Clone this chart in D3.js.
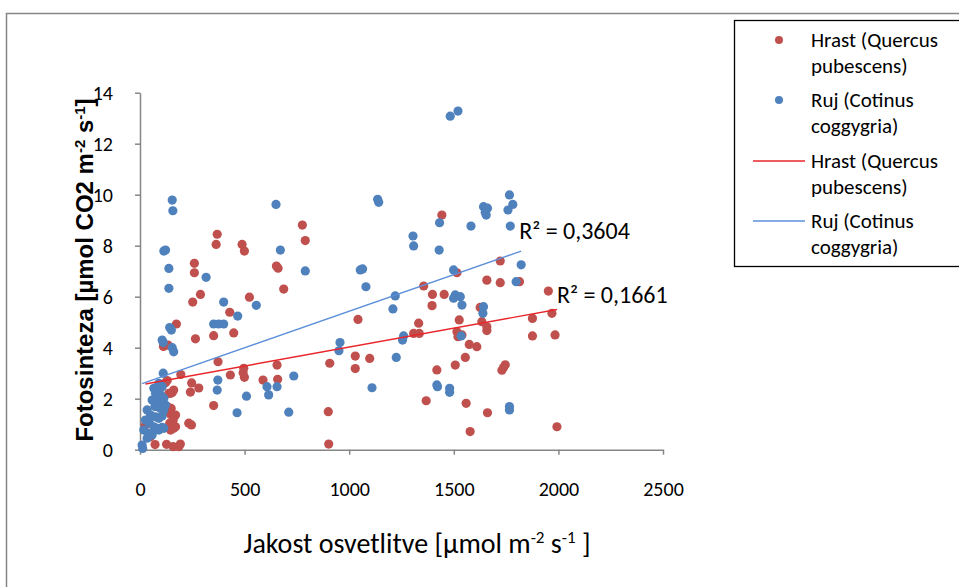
<!DOCTYPE html>
<html>
<head>
<meta charset="utf-8">
<script src="https://cdn.jsdelivr.net/npm/d3@7"></script>
<style>
body { margin: 0; background: #fff; }
text { fill: #000; }
</style>
</head>
<body>
<div id="holder"></div>
<script>
const w = 959;
const h = 587;
const font = "Carlito, Calibri, Lato, sans-serif";

// DATA
const hrastPoints = [
  [369,8.45],[364,8.05],[488,8.05],[499,7.79],[260,7.31],[260,6.94],[652,7.2],[660,7.12],[776,8.81],[790,8.2],
  [687,6.3],[289,6.09],[252,5.79],[523,5.98],[429,5.39],[174,4.93],[265,4.35],[352,4.47],[448,4.58],[112,4.05],
  [135,4.1],[373,3.45],[195,2.95],[247,2.62],[241,2.26],[281,2.42],[352,1.73],[432,2.93],[496,3.19],[499,2.84],
  [493,3.02],[588,2.73],[655,3.32],[658,2.76],[907,3.39],[900,1.49],[902,0.22],[233,1.04],[246,0.97],
  [146,1.39],[159,1.16],[142,1.04],[161,0.84],[149,1.62],[138,1.56],[170,1.36],[127,0.21],[159,0.12],[185,0.12],
  [193,0.22],[72,0.2],[34,1.1],[50,0.51],[42,0.58],[146,2.21],[154,2.24],[122,2.63],[130,2.71],[138,2.21],
  [161,2.34],[130,1.69],[154,1.04],[170,0.9],[146,0.77],[82,1.69],[26,0.97],[90,1.95],
  [1356,6.42],[1398,6.09],[1454,6.09],[1396,5.65],[1658,6.65],[1722,6.55],[1722,7.4],[1042,5.11],[1332,4.96],
  [1308,4.56],[1335,4.56],[1526,5.09],[1515,4.63],[1520,4.43],[1539,4.5],[1626,5.58],[1634,5.02],[1658,4.82],
  [1658,4.67],[1574,4.13],[1610,4.04],[1555,3.62],[1029,3.67],[1029,3.18],[1098,3.58],[1419,3.13],[1507,3.32],
  [1746,3.33],[1738,3.22],[1730,3.12],[1368,1.92],[1559,1.82],[1661,1.45],[1578,0.71],[1443,9.2],[1515,6.94],
  [1814,6.59],[1876,5.15],[1969,5.35],[1952,6.22],[1876,4.46],[1984,4.5],[1993,0.9]
];

const rujPoints = [
  [154,9.79],[157,9.37],[114,7.79],[122,7.83],[138,7.11],[138,6.33],[316,6.76],[650,9.62],[671,7.83],[790,7.01],
  [400,5.79],[556,5.66],[467,5.24],[352,4.93],[376,4.93],[400,4.93],[142,4.79],[150,4.69],[106,4.3],[111,4.2],
  [154,4.0],[161,3.84],[111,3.0],[372,2.73],[369,2.34],[464,1.45],[509,2.1],[607,2.47],[615,2.15],[655,2.47],
  [711,1.47],[735,2.89],[956,4.2],[951,3.88],
  [90,2.6],[66,2.41],[90,2.37],[106,2.47],[74,2.21],[98,2.15],[58,1.95],[82,1.88],[106,2.02],[71,1.69],
  [98,1.62],[114,1.56],[34,1.56],[50,1.36],[74,1.29],[90,1.23],[106,1.32],[26,1.16],[45,1.04],[66,0.9],
  [82,0.84],[106,0.88],[18,0.77],[39,0.64],[58,0.58],[34,0.45],[10,0.18],[13,0.05],[114,2.02],[122,1.75],
  [90,0.77],[114,0.84],
  [1483,13.08],[1520,13.28],[1136,9.82],[1141,9.7],[1766,9.99],[1782,9.62],[1759,9.4],[1642,9.53],[1661,9.47],
  [1655,9.2],[1650,9.3],[1432,8.9],[1582,8.77],[1770,8.77],[1305,8.38],[1308,7.99],[1430,7.83],[1822,7.25],
  [1499,7.05],[1798,6.59],[1220,6.03],[1209,5.52],[1507,6.07],[1531,6.0],[1539,5.67],[1499,5.94],[1642,5.61],
  [1639,5.35],[1053,7.05],[1064,7.09],[1080,6.39],[1260,4.46],[1255,4.3],[1225,3.62],[1109,2.43],[1419,2.54],
  [1422,2.47],[1480,2.41],[1480,2.25],[1535,4.46],[1766,1.69],[1766,1.56]
];

// linear trend: [slope, intercept]
const hrastTrend = [0.001484, 2.54];
const rujTrend = [0.00287, 2.56];
const r2Labels = ["R² = 0,1661", "R² = 0,3604"];

const xTicks = [0, 500, 1000, 1500, 2000, 2500];
const yTicks = [0, 2, 4, 6, 8, 10, 12, 14];
const legendNames = [["Hrast (Quercus", "pubescens)"], ["Ruj (Cotinus", "coggygria)"]];

const red = "#C0504D";
const blue = "#4F81BD";
const redLine = "#E8262B";
const blueLine = "#5B8FD8";
const axisColor = "#868686";

// CREATE SVG
const svg = d3.select("#holder")
    .append("svg")
    .attr("width", w)
    .attr("height", h)

// outer chart border
svg.append("rect")
    .attr("x", 6.5).attr("y", 13.5)
    .attr("width", 1000).attr("height", 1000)
    .attr("fill", "none")
    .attr("stroke", axisColor)
    .attr("stroke-width", 1.5)

// SCALES
const xScale = d3.scaleLinear().domain([0, 2500]).range([140, 663])
const yScale = d3.scaleLinear().domain([0, 14]).range([449.7, 92.7])

// X AXIS
const xAxis = d3.axisBottom(xScale).tickValues(xTicks).tickFormat(d3.format("d"))
    .tickSize(5).tickSizeOuter(0).tickPadding(27)
svg.append("g")
    .attr("transform", "translate(0," + yScale(0) + ")")
    .call(xAxis)

// Y AXIS
const yAxis = d3.axisLeft(yScale).tickValues(yTicks).tickFormat(d3.format("d"))
    .tickSize(5).tickSizeOuter(0).tickPadding(22)
svg.append("g")
    .attr("transform", "translate(" + xScale(0) + ",0)")
    .call(yAxis)

svg.selectAll(".domain, .tick line").attr("stroke", axisColor).attr("stroke-width", 1.5)
svg.selectAll(".tick text")
    .style("font-family", font)
    .style("font-size", "20px")
    .attr("fill", "#000")

// POINTS
function drawPoints(data, color) {
    svg.append("g")
        .selectAll("circle")
        .data(data)
        .enter()
        .append("circle")
        .attr("cx", d => xScale(d[0]))
        .attr("cy", d => yScale(d[1]))
        .attr("r", 4.6)
        .attr("fill", color)
}
drawPoints(hrastPoints, red)
drawPoints(rujPoints, blue)

// TREND LINES
function drawTrend(data, coef, color, label, dx, dy) {
    const ext = d3.extent(data, d => d[0])
    const line = d3.line().x(d => xScale(d)).y(d => yScale(coef[0] * d + coef[1]))
    svg.append("path")
        .attr("d", line(ext))
        .attr("fill", "none")
        .attr("stroke", color)
        .attr("stroke-width", 1.4)
    svg.append("text")
        .attr("x", xScale(ext[1]) + dx)
        .attr("y", yScale(coef[0] * ext[1] + coef[1]) + dy)
        .style("font-family", font)
        .style("font-size", "24px")
        .text(label)
}
drawTrend(hrastPoints, hrastTrend, redLine, r2Labels[0], 0, -7)
drawTrend(rujPoints, rujTrend, blueLine, r2Labels[1], -2, -12)

// AXIS TITLES
const yTitle = svg.append("text")
    .attr("transform", "translate(93,270) rotate(-90)")
    .attr("text-anchor", "middle")
    .style("font-family", "'Liberation Sans', Arial, sans-serif")
    .style("font-weight", "bold")
    .style("font-size", "24px")
yTitle.append("tspan").text("Fotosinteza [µmol CO2 m")
yTitle.append("tspan").attr("baseline-shift", "super").style("font-size", "15px").text("-2")
yTitle.append("tspan").text(" s")
yTitle.append("tspan").attr("baseline-shift", "super").style("font-size", "15px").text("-1")
yTitle.append("tspan").text("]")

const xTitle = svg.append("text")
    .attr("x", 417).attr("y", 553)
    .attr("text-anchor", "middle")
    .style("font-family", font)
    .style("font-size", "28px")
xTitle.append("tspan").text("Jakost osvetlitve [µmol m")
xTitle.append("tspan").attr("baseline-shift", "super").style("font-size", "17px").text("-2")
xTitle.append("tspan").text(" s")
xTitle.append("tspan").attr("baseline-shift", "super").style("font-size", "17px").text("-1")
xTitle.append("tspan").text(" ]")

// LEGEND
const legend = svg.append("g")
legend.append("rect")
    .attr("x", 734.5).attr("y", 20.5)
    .attr("width", 300).attr("height", 246)
    .attr("fill", "#fff")
    .attr("stroke", "#000")
    .attr("stroke-width", 1.3)

const legendItems = [
    { name: legendNames[0], color: red, kind: "dot" },
    { name: legendNames[1], color: blue, kind: "dot" },
    { name: legendNames[0], color: redLine, kind: "line" },
    { name: legendNames[1], color: blueLine, kind: "line" }
]
const legendY = [40, 100, 161, 221]
legendItems.forEach((it, i) => {
    const y0 = legendY[i]
    if (it.kind === "dot") {
        legend.append("circle").attr("cx", 779).attr("cy", y0).attr("r", 4).attr("fill", it.color)
    } else {
        legend.append("line").attr("x1", 753).attr("x2", 805).attr("y1", y0).attr("y2", y0)
            .attr("stroke", it.color).attr("stroke-width", 1.4)
    }
    it.name.forEach((t, j) => {
        legend.append("text")
            .attr("x", 811)
            .attr("y", y0 + j * 26)
            .attr("dy", "0.35em")
            .style("font-family", font)
            .style("font-size", "21px")
            .text(t)
    })
})
</script>
</body>
</html>
